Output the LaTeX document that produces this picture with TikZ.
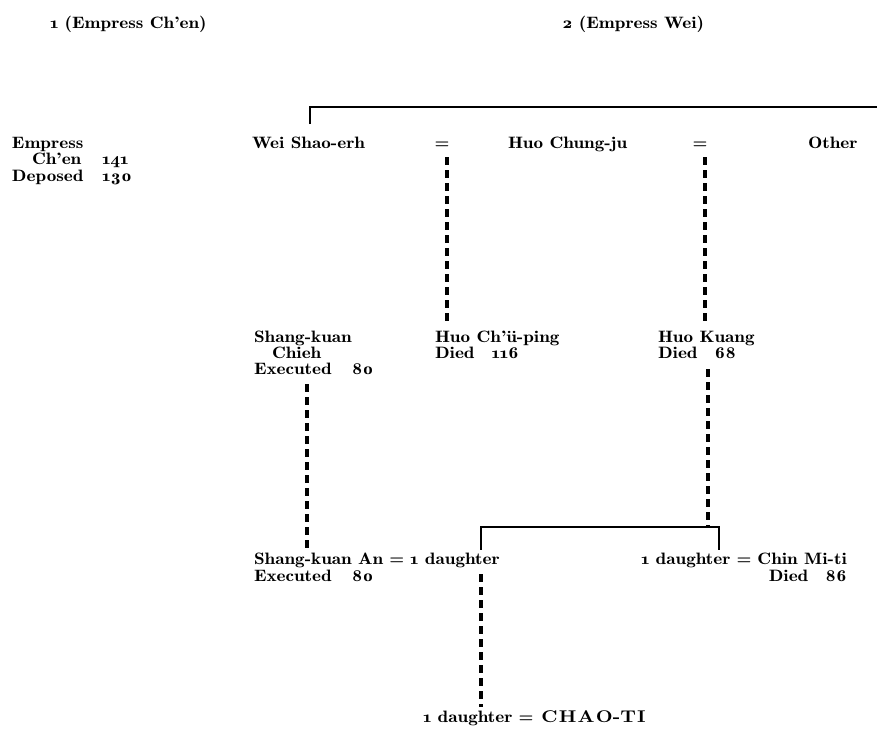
\documentclass[tikz,border=0pt]{standalone}
\usetikzlibrary{calc,backgrounds}
\font\bodyf="[lmromandemi10-regular]:mapping=tex-text;+onum;extend=1.16" at 16.5pt
\font\chaof="[lmroman10-bold]:mapping=tex-text;+onum;extend=1.15" at 17pt
\begin{document}
\begin{tikzpicture}[x=1pt,y=-1pt,
  lbl/.style={anchor=base west,inner sep=0pt,outer sep=0pt,font=\bodyf},
  lblc/.style={lbl,anchor=base},
  lble/.style={lbl,anchor=base east},
  bar/.style={line width=2.8pt},
  dashline/.style={line width=3.2pt,line cap=butt,dash pattern=on 8pt off 5pt}]
\useasboundingbox (0,0) rectangle (877,734);
% titles
\node[lbl] (t1) at (50,28) {1 (Empress Ch'en)};
\node[lbl] (t2) at (562,28) {2 (Empress Wei)};
% Empress Ch'en block
\node[lbl] (ec1) at (12,148) {Empress};
\node[lbl] (ec2) at (32,164.5) {Ch'en};
\node[lbl] (ec3) at (102,164.5) {141};
\node[lbl] (ec4) at (12,181) {Deposed};
\node[lbl] (ec5) at (102,181) {130};
% row 1
\node[lbl] (wse) at (252,148) {Wei Shao-erh};
\node[lblc] (eq1) at (442,148) {=};
\node[lbl] (hcj) at (508,148) {Huo Chung-ju};
\node[lblc] (eq2) at (700,148) {=};
\node[lbl] (oth) at (808,148) {Other};
% row 2
\node[lbl] (skc1) at (254,342) {Shang-kuan};
\node[lbl] (skc2) at (272,358) {Chieh};
\node[lbl] (skc3) at (254,374) {Executed\hspace{20pt}80};
\node[lbl] (hcp1) at (435,342) {Huo Ch'ü-ping};
\node[lbl] (hcp2) at (435,358) {Died\hspace{17pt}116};
\node[lbl] (hk1) at (658,342) {Huo Kuang};
\node[lbl] (hk2) at (658,358) {Died\hspace{17pt}68};
% row 3
\node[lbl] (ska) at (254,564) {Shang-kuan An};
\node[lbl] (eq3) at ($(ska.base east)+(6,0)$) {=};
\node[lbl] (dl) at ($(eq3.base east)+(6,0)$) {1 daughter};
\node[lbl] (ska2) at (254,581) {Executed\hspace{20pt}80};
\node[lbl] (dr) at (641,564) {1 daughter};
\node[lbl] (eq4) at ($(dr.base east)+(6,0)$) {=};
\node[lbl] (cmt) at ($(eq4.base east)+(6,0)$) {Chin Mi-ti};
\node[lble] (cmt2) at ($(cmt.base east)+(0,17)$) {Died\hspace{17pt}86};
% bottom
\node[lbl] (db) at (423,722) {1 daughter};
\node[lbl] (eq5) at ($(db.base east)+(6,0)$) {=};
\node[lbl,font=\chaof] (chao) at ($(eq5.base east)+(8,0)$) {C\kern1.2pt H\kern1.2pt A\kern1.2pt O-T\kern1.2pt I};
% connectors
\begin{scope}[on background layer]
\coordinate (topL) at (310,124);
\coordinate (topR) at (877,107);
\draw[bar] (topL) |- (topR);
\coordinate (d1a) at (447,157);
\draw[dashline] (d1a) -- ($(d1a |- hcp1.north)+(0,-8)$);
\coordinate (d2a) at (705,157);
\draw[dashline] (d2a) -- ($(d2a |- hk1.north)+(0,-8)$);
\coordinate (d3a) at (307,384);
\draw[dashline] (d3a) -- ($(d3a |- ska.north)+(0,-4)$);
\coordinate (d4a) at (708,369);
\coordinate (brL) at (481,527);
\coordinate (brR) at (719,527);
\draw[dashline] (d4a) -- (d4a |- brR);
\draw[bar] ($(brL |- dl.north)+(0,-3)$) |- (brR) -- ($(brR |- dr.north)+(0,-3)$);
\coordinate (d5a) at (481,574);
\draw[dashline] (d5a) -- ($(d5a |- db.north)+(0,-4)$);
\end{scope}
\end{tikzpicture}
\end{document}
